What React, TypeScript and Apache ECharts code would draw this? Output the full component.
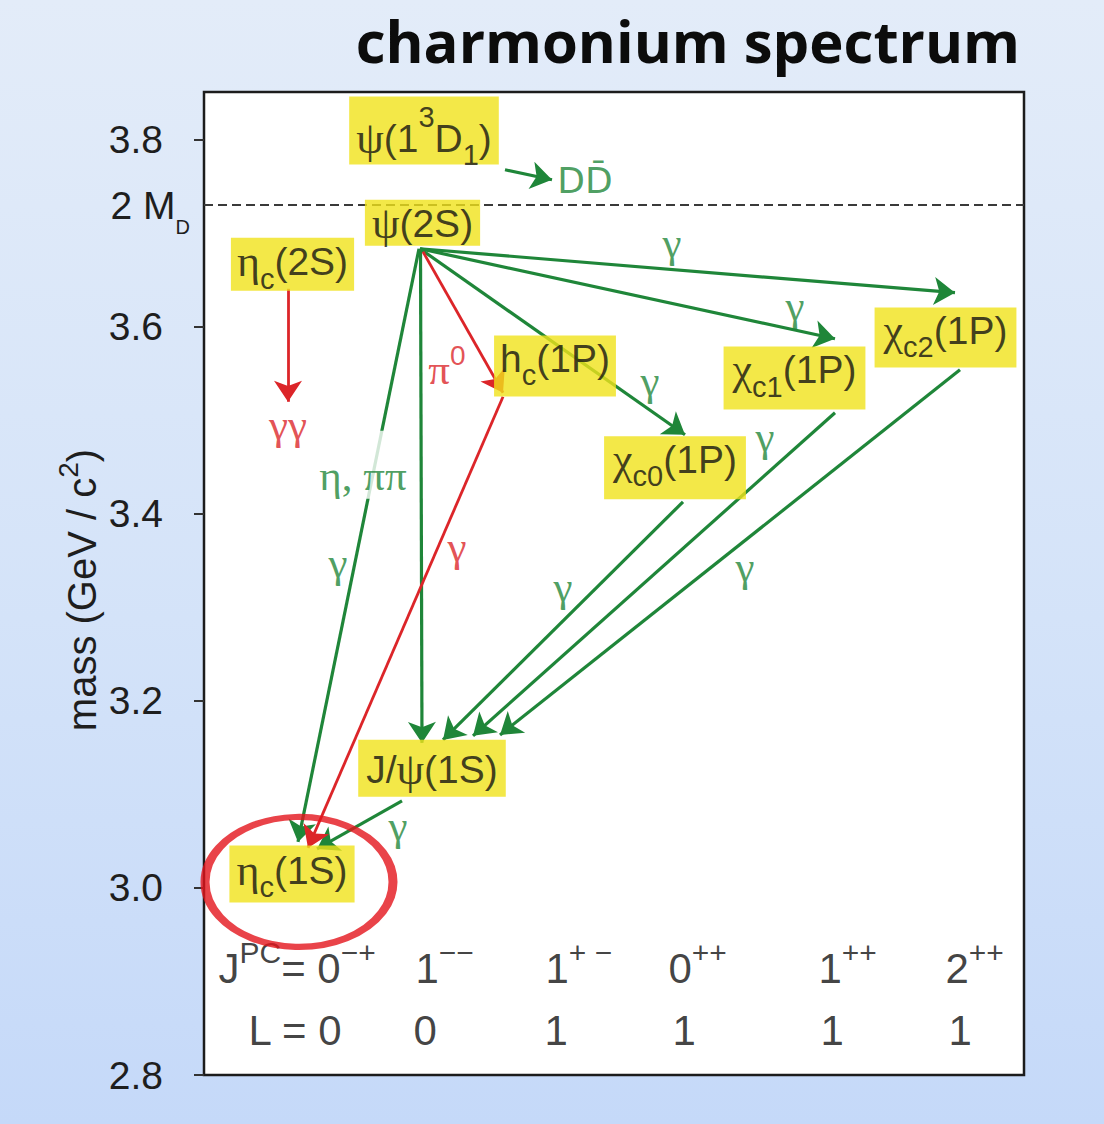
import React, { useEffect, useRef } from 'react';
import * as echarts from 'echarts';

const SANS = '"Liberation Sans", Arial, Helvetica, sans-serif';
const SERIF = '"Liberation Serif", "Times New Roman", serif';
const GREEN = '#1f8639';
const RED = '#dc2529';
const YELLOW = '#f0e21a';
const INK = '#121212';

// ---- axes ----
const Y_MIN = 2.8;
const Y_MAX = 3.851;
const yTicks = [2.8, 3.0, 3.2, 3.4, 3.6, 3.8];
const TWO_MD = 3.7297; // 2 M_D threshold
const X_MIN = 0;
const X_MAX = 8.2;

// ---- states (mass in GeV, column position) ----
const stateKeys = ['etac1S', 'jpsi', 'chic0', 'chic1', 'hc', 'chic2', 'etac2S', 'psi2S', 'psi3770'];
const stateMass = [2.984, 3.097, 3.415, 3.511, 3.525, 3.556, 3.638, 3.686, 3.773];
const stateCol = [0.88, 2.28, 4.71, 5.905, 3.51, 7.415, 0.885, 2.185, 2.2];
const stateLabel = [
  '{g|η}{sub|c}{t|(1S)}',
  '{t|J/}{g|ψ}{t|(1S)}',
  '{g|χ}{sub|c0}{t|(1P)}',
  '{g|χ}{sub|c1}{t|(1P)}',
  '{t|h}{sub|c}{t|(1P)}',
  '{g|χ}{sub|c2}{t|(1P)}',
  '{g|η}{sub|c}{t|(2S)}',
  '{g|ψ}{t|(2S)}',
  '{g|ψ}{t|(1}{supHi|3}{t|D}{sub|1}{t|)}',
];
// label box padding per state [top, right, bottom, left]
const statePad: Record<string, number[]> = {
  etac1S: [3, 7, 10, 7],
  jpsi: [8, 8, 5, 8],
  chic0: [1, 9, 18, 9],
  chic1: [1, 9, 18, 9],
  hc: [1, 6, 16, 6],
  chic2: [1, 9, 15, 9],
  etac2S: [2, 6, 7, 6],
  psi2S: [2, 7, 0, 7],
  psi3770: [20, 7, 4, 7],
};

// ---- transitions [from, to] as [column, mass] ----
const greenArrows = [
  [[2.16, 3.6834], [7.51, 3.6364]], // psi(2S) -> chi_c2
  [[2.16, 3.6834], [6.31, 3.5872]], // psi(2S) -> chi_c1
  [[2.16, 3.6834], [4.81, 3.4845]], // psi(2S) -> chi_c0
  [[2.165, 3.6834], [2.18, 3.1551]], // psi(2S) -> J/psi
  [[2.15, 3.6834], [0.94, 3.0492]], // psi(2S) -> eta_c(1S)
  [[4.79, 3.4128], [2.39, 3.1583]], // chi_c0 -> J/psi
  [[6.31, 3.508], [2.69, 3.1626]], // chi_c1 -> J/psi
  [[7.56, 3.554], [2.96, 3.1636]], // chi_c2 -> J/psi
  [[1.98, 3.093], [1.13, 3.0417]], // J/psi -> eta_c(1S)
  [[3.01, 3.7679], [3.48, 3.7572]], // psi(3770) -> D Dbar
];
const redArrows = [
  [[2.19, 3.6802], [2.99, 3.5294]], // psi(2S) -> h_c (pi0)
  [[2.99, 3.5251], [1.04, 3.0428]], // h_c -> eta_c(1S)
  [[0.84, 3.6406], [0.84, 3.5198]], // eta_c(2S) -> gamma gamma
];

// ---- transition annotations ----
const greenNotes = ['γ', 'γ', 'γ', 'η, ππ', 'γ', 'γ', 'γ', 'γ', 'γ', 'DD̄'];
const greenNoteX = [4.68, 5.91, 4.46, 1.59, 1.34, 3.59, 5.61, 5.41, 1.94, 3.81];
const greenNoteY = [3.6898, 3.6225, 3.5422, 3.4524, 3.3476, 3.3219, 3.4824, 3.3433, 3.0663, 3.7561];
const redNotes = ['π0', 'γγ', 'γ'];
const redNoteX = [2.43, 0.84, 2.53];
const redNoteY = [3.554, 3.4952, 3.3647];

// ---- quantum numbers per column ----
const jpcLabels = ['0−+', '1−−', '1+ −', '0++', '1++', '2++'];
const lLabels = ['0', '0', '1', '1', '1', '1'];
const jpcX = [0.14, 2.11, 3.41, 4.64, 6.14, 7.41];
const lX = [0.44, 2.09, 3.4, 4.68, 6.16, 7.44];
const JPC_ROW = 2.9144;
const L_ROW = 2.8481;

// highlighted state (circled)
const highlight = [[0.95, 3.0064]];

const labelRich = {
  t: { fontFamily: SANS, fontSize: 39, lineHeight: 44, color: INK, verticalAlign: 'middle' },
  g: { fontFamily: SERIF, fontSize: 44, lineHeight: 44, color: INK, verticalAlign: 'middle' },
  sub: { fontFamily: SANS, fontSize: 29, lineHeight: 44, color: INK, verticalAlign: 'middle', padding: [34, 0, 0, 0] },
  supHi: { fontFamily: SANS, fontSize: 29, lineHeight: 44, color: INK, verticalAlign: 'middle', padding: [0, 0, 42, 0] },
};

const noteRich = {
  g: { fontFamily: SERIF, fontSize: 43, lineHeight: 46, verticalAlign: 'middle' },
  sup: { fontFamily: SANS, fontSize: 28, lineHeight: 46, verticalAlign: 'middle', padding: [0, 0, 28, 0] },
  d: { fontFamily: '"DejaVu Sans", sans-serif', fontSize: 36, lineHeight: 46, verticalAlign: 'middle' },
};

const rowRich = {
  t: { fontFamily: SANS, fontSize: 42, lineHeight: 48, color: INK, verticalAlign: 'middle' },
  sup: { fontFamily: SANS, fontSize: 30, lineHeight: 48, color: INK, verticalAlign: 'middle', padding: [0, 0, 32, 0] },
};

function noteFormat(s: string): string {
  if (s === 'π0') return '{g|π}{sup|0}';
  if (s === 'DD̄') return '{d|DD̄}';
  return '{g|' + s + '}';
}

export default function App() {
  const ref = useRef<HTMLDivElement>(null);

  useEffect(() => {
    document.body.style.margin = '0';
    if (!ref.current) return;
    const chart = echarts.init(ref.current, null, { renderer: 'svg' });

    const stateData = stateKeys.map((k, i) => ({
      value: [stateCol[i], stateMass[i]],
      name: k,
      label: { formatter: stateLabel[i], padding: statePad[k] },
    }));

    const greenNoteData = greenNotes.map((s, i) => {
      const item: any = { value: [greenNoteX[i], greenNoteY[i]], name: s };
      if (s === 'η, ππ') {
        item.label = { backgroundColor: '#ffffff', padding: [22, 2, 0, 2] };
      }
      return item;
    });
    const redNoteData = redNotes.map((s, i) => ({ value: [redNoteX[i], redNoteY[i]], name: s }));

    const rowData = [
      ...jpcLabels.map((s, i) => {
        const main = s.charAt(0);
        const sup = s.slice(1);
        const prefix = i === 0 ? '{t|J}{sup|PC}{t|= }' : '';
        return { value: [jpcX[i], JPC_ROW], name: prefix + '{t|' + main + '}{sup|' + sup + '}' };
      }),
      ...lLabels.map((s, i) => ({
        value: [lX[i], L_ROW],
        name: i === 0 ? '{t|L = ' + s + '}' : '{t|' + s + '}',
      })),
    ];

    const option: any = {
      animation: false,
      backgroundColor: 'transparent',
      grid: {
        left: 204,
        top: 92,
        width: 820,
        height: 983,
        show: true,
        backgroundColor: '#ffffff',
        borderColor: '#1c1c1c',
        borderWidth: 2.5,
        outerBoundsMode: 'none',
      },
      xAxis: {
        type: 'value',
        min: X_MIN,
        max: X_MAX,
        show: false,
      },
      yAxis: {
        type: 'value',
        min: Y_MIN,
        max: Y_MAX,
        offset: 6,
        axisLine: { show: false },
        splitLine: { show: false },
        axisTick: {
          show: true,
          length: 10,
          customValues: yTicks,
          lineStyle: { color: '#333', width: 2 },
        },
        axisLabel: {
          customValues: yTicks,
          margin: 35,
          fontFamily: SANS,
          fontSize: 39,
          color: '#1e1e1e',
          formatter: (v: number) => v.toFixed(1),
        },
      },
      graphic: [
        {
          type: 'text',
          x: 1020,
          y: 40,
          style: {
            text: 'charmonium spectrum',
            fontFamily: '"Open Sans", "Noto Sans", sans-serif',
            fontWeight: 'bold',
            fontSize: 58,
            lineHeight: 64,
            fill: '#0c0c0c',
            align: 'right',
            verticalAlign: 'middle',
          },
        },
        {
          type: 'text',
          x: 82,
          y: 590,
          rotation: Math.PI / 2,
          style: {
            text: '{a|mass (GeV / c}{s|2}{a|)}',
            align: 'center',
            verticalAlign: 'middle',
            rich: {
              a: { fontFamily: SANS, fontSize: 40, lineHeight: 46, fill: '#1e1e1e', verticalAlign: 'middle' },
              s: { fontFamily: SANS, fontSize: 28, lineHeight: 46, fill: '#1e1e1e', verticalAlign: 'middle', padding: [0, 0, 28, 0] },
            },
          },
        },
      ],
      series: [
        {
          type: 'scatter',
          z: 2,
          symbolSize: 1,
          itemStyle: { color: 'transparent' },
          silent: true,
          data: rowData,
          label: {
            show: true,
            position: 'right',
            distance: 0,
            formatter: (p: any) => p.name,
            rich: rowRich,
          },
          markLine: {
            silent: true,
            symbol: 'none',
            data: [{ yAxis: TWO_MD }],
            lineStyle: { type: [9, 5], color: '#3a3a3a', width: 2 },
            label: {
              show: true,
              position: 'start',
              distance: 14,
              formatter: '{t|2 M}{sub|D}',
              rich: {
                t: { fontFamily: SANS, fontSize: 39, lineHeight: 44, color: '#1e1e1e', verticalAlign: 'middle' },
                sub: { fontFamily: SANS, fontSize: 20, lineHeight: 44, color: '#1e1e1e', verticalAlign: 'middle', padding: [44, 0, 0, 0] },
              },
            },
          },
        },
        {
          type: 'lines',
          coordinateSystem: 'cartesian2d',
          z: 3,
          silent: true,
          symbol: ['none', 'arrow'],
          symbolSize: 21,
          lineStyle: { color: GREEN, width: 3.2, opacity: 1 },
          data: greenArrows.map((c) => ({ coords: c })),
        },
        {
          type: 'lines',
          coordinateSystem: 'cartesian2d',
          z: 3,
          silent: true,
          symbol: ['none', 'arrow'],
          symbolSize: 21,
          lineStyle: { color: RED, width: 2.8, opacity: 1 },
          data: redArrows.map((c) => ({ coords: c })),
        },
        {
          type: 'scatter',
          z: 6,
          silent: true,
          symbolSize: 1,
          itemStyle: { color: 'transparent' },
          data: greenNoteData,
          label: {
            show: true,
            position: 'inside',
            color: GREEN,
            formatter: (p: any) => noteFormat(p.name),
            rich: noteRich,
          },
        },
        {
          type: 'scatter',
          z: 6,
          silent: true,
          symbolSize: 1,
          itemStyle: { color: 'transparent' },
          data: redNoteData,
          label: {
            show: true,
            position: 'inside',
            color: RED,
            formatter: (p: any) => noteFormat(p.name),
            rich: noteRich,
          },
        },
        {
          type: 'scatter',
          z: 10,
          silent: true,
          symbolSize: 1,
          itemStyle: { color: 'transparent' },
          data: stateData,
          label: {
            show: true,
            position: 'top',
            distance: 0,
            backgroundColor: YELLOW,
            rich: labelRich,
          },
        },
        {
          type: 'scatter',
          z: 12,
          silent: true,
          symbol: 'circle',
          symbolSize: [188, 130],
          itemStyle: { color: 'transparent', borderColor: '#e3141b', borderWidth: 7.5 },
          data: highlight,
        },
      ],
    };

    chart.setOption(option);
    return () => chart.dispose();
  }, []);

  return (
    <div
      style={{
        width: 1104,
        height: 1124,
        background: 'linear-gradient(180deg, #e3ecf9 0%, #d4e3f9 55%, #c5d9f9 100%)',
      }}
    >
      <div ref={ref} style={{ width: 1104, height: 1124 }} />
    </div>
  );
}
